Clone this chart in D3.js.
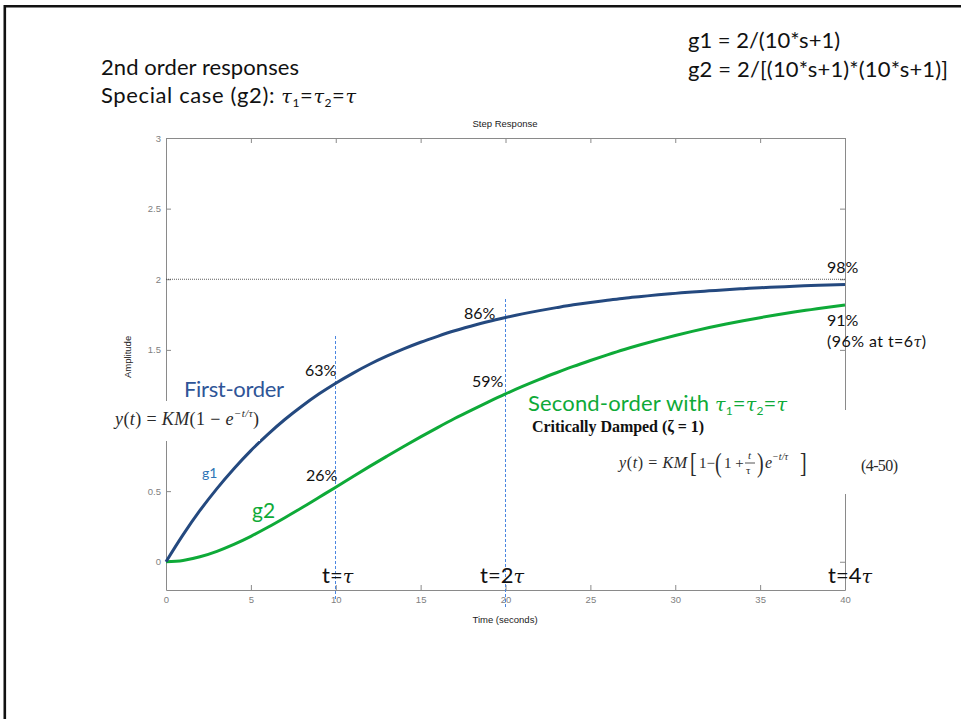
<!DOCTYPE html>
<html>
<head>
<meta charset="utf-8">
<script src="https://cdn.jsdelivr.net/npm/d3@7"></script>
<style>
  html, body { margin: 0; padding: 0; background: #fff; }
  svg { display: block; }
</style>
</head>
<body>
<svg id="chart" width="961" height="719"></svg>
<script>
// ---- data ----
const timeSec = [0,1,2,3,4,5,6,7,8,9,10,11,12,13,14,15,16,17,18,19,20,
                 21,22,23,24,25,26,27,28,29,30,31,32,33,34,35,36,37,38,39,40];
// first-order response g1
const g1Amp = [0,0.190,0.363,0.518,0.659,0.787,0.902,1.007,1.101,1.187,1.264,
               1.334,1.398,1.455,1.507,1.554,1.596,1.635,1.669,1.701,1.729,
               1.755,1.778,1.799,1.819,1.836,1.851,1.866,1.878,1.890,1.900,
               1.910,1.918,1.926,1.933,1.940,1.945,1.951,1.955,1.960,1.963];
// critically damped second-order response g2
const g2Amp = [0,0.009,0.035,0.074,0.123,0.180,0.244,0.312,0.382,0.455,0.528,
               0.602,0.675,0.746,0.816,0.884,0.950,1.014,1.074,1.132,1.188,
               1.241,1.291,1.338,1.383,1.425,1.465,1.503,1.538,1.571,1.602,
               1.631,1.658,1.683,1.706,1.728,1.749,1.768,1.785,1.802,1.817];
const xTicks = [0,5,10,15,20,25,30,35,40];
const yTicks = [0,0.5,1,1.5,2,2.5,3];
// the "1" label sits under the first-order equation panel
const yTickLabels = ["0","0.5","","1.5","2","2.5","3"];
const steadyState = 2;
// reference time markers: t = tau, t = 2 tau
const markerTimes = [10, 20];
const markerTop = [1.6, 1.86];
const markerBottom = [-0.27, -0.32];

// ---- layout ----
const svg = d3.select("#chart");
const x = d3.scaleLinear().domain([0, 40]).range([166, 845]);
const y = d3.scaleLinear().domain([-0.2, 3]).range([590, 138]);

const sans = "Lato, 'Open Sans', sans-serif";
const serif = "'Liberation Serif', 'DejaVu Serif', serif";
const greek = "'DejaVu Serif', serif";
const axisFont = "'Liberation Sans', Arial, sans-serif";

// slide frame (top and left edges)
svg.append("path")
  .attr("d", "M4.8,719 V6.2 H961")
  .attr("fill", "none").attr("stroke", "#111").attr("stroke-width", 2.6);

// ---- axes ----
const axisColor = "#8a8a8a";
function styleAxis(g) {
  g.select(".domain").attr("stroke", axisColor).attr("stroke-width", 1);
  g.selectAll(".tick line").attr("stroke", axisColor);
  g.selectAll(".tick text").attr("fill", "#808080")
    .attr("font-family", axisFont).attr("font-size", 9.5);
}
svg.append("g").attr("transform", `translate(0,${y(-0.2)})`)
  .call(d3.axisBottom(x).tickValues(xTicks).tickSize(-5).tickSizeOuter(0).tickPadding(6))
  .call(styleAxis);
svg.append("g").attr("transform", `translate(0,${y(3)})`)
  .call(d3.axisTop(x).tickValues(xTicks).tickSize(-5).tickSizeOuter(0).tickFormat(""))
  .call(styleAxis);
svg.append("g").attr("transform", `translate(${x(0)},0)`)
  .call(d3.axisLeft(y).tickValues(yTicks).tickSize(-5).tickSizeOuter(0).tickPadding(5)
        .tickFormat((d, i) => yTickLabels[i]))
  .call(styleAxis);
svg.append("g").attr("transform", `translate(${x(40)},0)`)
  .call(d3.axisRight(y).tickValues(yTicks).tickSize(-5).tickSizeOuter(0).tickFormat(""))
  .call(styleAxis);

// axis titles and plot title
svg.append("text").attr("x", 505).attr("y", 127).attr("text-anchor", "middle")
  .attr("font-family", axisFont).attr("font-size", 9.5).attr("fill", "#222")
  .text("Step Response");
svg.append("text").attr("x", 505).attr("y", 623).attr("text-anchor", "middle")
  .attr("font-family", axisFont).attr("font-size", 9.5).attr("fill", "#222")
  .text("Time (seconds)");
svg.append("text").attr("transform", `translate(131,${y(1.45)}) rotate(-90)`)
  .attr("text-anchor", "middle")
  .attr("font-family", axisFont).attr("font-size", 9.5).attr("fill", "#222")
  .text("Amplitude");

// steady-state reference line
svg.append("line")
  .attr("x1", x(0)).attr("x2", x(40)).attr("y1", y(steadyState)).attr("y2", y(steadyState))
  .attr("stroke", "#333").attr("stroke-width", 0.8).attr("stroke-dasharray", "1,1");

// time markers
markerTimes.forEach((t, i) => {
  svg.append("line")
    .attr("x1", x(t)).attr("x2", x(t)).attr("y1", y(markerTop[i])).attr("y2", y(markerBottom[i]))
    .attr("stroke", "#4a86e0").attr("stroke-width", 1).attr("stroke-dasharray", "3,2")
    .attr("shape-rendering", "crispEdges");
});

// response curves
const line = d3.line().x((d, i) => x(timeSec[i])).y(d => y(d)).curve(d3.curveMonotoneX);
svg.append("path").datum(g2Amp).attr("d", line)
  .attr("fill", "none").attr("stroke", "#0eaa38").attr("stroke-width", 3);
svg.append("path").datum(g1Amp).attr("d", line)
  .attr("fill", "none").attr("stroke", "#24497f").attr("stroke-width", 3);

// white panels behind the equations
svg.append("rect").attr("x", 100).attr("y", 401).attr("width", 160).attr("height", 40).attr("fill", "#fff");
svg.append("rect").attr("x", 516).attr("y", 410).attr("width", 410).attr("height", 84).attr("fill", "#fff");

// ---- text helpers ----
function rich(x0, y0, parts, base, width) {
  const t = svg.append("text").attr("x", x0).attr("y", y0);
  Object.entries(base).forEach(([k, v]) => t.attr(k, v));
  parts.forEach(p => {
    const s = t.append("tspan").text(p.t);
    if (p.dy) s.attr("dy", p.dy);
    if (p.size) s.attr("font-size", p.size);
    if (p.italic) s.attr("font-style", "italic");
    if (p.fam) s.attr("font-family", p.fam);
    if (p.dx) s.attr("dx", p.dx);
  });
  if (width) t.attr("textLength", width).attr("lengthAdjust", "spacing");
  return t;
}
function plain(x0, y0, str, base, width) {
  const t = svg.append("text").attr("x", x0).attr("y", y0).text(str);
  Object.entries(base).forEach(([k, v]) => t.attr(k, v));
  if (width) t.attr("textLength", width).attr("lengthAdjust", "spacing");
  return t;
}
// tall delimiter glyph, stretched vertically
function delim(x0, y0, ch, fill) {
  return svg.append("text").attr("transform", `translate(${x0},${y0}) scale(1,1.35)`)
    .attr("font-family", serif).attr("font-size", 20).attr("fill", fill).text(ch);
}
const tau = (extra) => Object.assign({ t: "τ", italic: true, fam: greek }, extra || {});

const head = { "font-family": sans, "font-size": 22, fill: "#111" };
plain(101, 75, "2nd order responses", head, 198);
rich(101, 103, [
  { t: "Special case (g2): " },
  tau({ size: 19 }), { t: "1", size: 12, dy: 4 }, { t: "=", dy: -4 },
  tau({ size: 19 }), { t: "2", size: 12, dy: 4 }, { t: "=", dy: -4 }, tau({ size: 19 })
], head, 255);
plain(688, 48, "g1 = 2/(10*s+1)", head, 152);
plain(688, 77, "g2 = 2/[(10*s+1)*(10*s+1)]", head, 260);

// percentage annotations
const pct = { "font-family": sans, "font-size": 16, fill: "#111" };
plain(827, 273, "98%", pct);
plain(827, 326, "91%", pct);
rich(827, 347, [{ t: "(96% at t=6" }, tau({ size: 14 }), { t: ")" }], pct, 99);
plain(464, 319, "86%", pct);
plain(305, 376, "63%", pct);
plain(472, 387, "59%", pct);
plain(306, 481, "26%", pct);

// time labels
const tl = { "font-family": sans, "font-size": 22, fill: "#111" };
rich(322, 583, [{ t: "t=" }, tau({ size: 19 })], tl);
rich(480, 583, [{ t: "t=2" }, tau({ size: 19 })], tl);
rich(828, 583, [{ t: "t=4" }, tau({ size: 19 })], tl);

// curve labels
plain(184, 397, "First-order", { "font-family": sans, "font-size": 22, fill: "#2f5597" }, 100);
plain(202, 478, "g1", { "font-family": sans, "font-size": 14, fill: "#2e75b6" });
plain(252, 518, "g2", { "font-family": sans, "font-size": 21, fill: "#0eaa38" });
rich(528, 411, [
  { t: "Second-order with " },
  tau({ size: 19 }), { t: "1", size: 12, dy: 4 }, { t: "=", dy: -4 },
  tau({ size: 19 }), { t: "2", size: 12, dy: 4 }, { t: "=", dy: -4 }, tau({ size: 19 })
], { "font-family": sans, "font-size": 22, fill: "#0eaa38" }, 259);

// first-order equation
const eq = { "font-family": serif, "font-size": 18, fill: "#2a2a2a" };
rich(115, 425, [
  { t: "y", italic: true }, { t: "(" }, { t: "t", italic: true }, { t: ") = " },
  { t: "KM", italic: true }, { t: "(1 − " }, { t: "e", italic: true },
  { t: "−t/τ", size: 11, dy: -8, italic: true }, { t: ")", dy: 8 }
], eq, 144);

// critically damped equation
plain(532, 432, "Critically Damped (ζ = 1)",
  { "font-family": serif, "font-size": 16, "font-weight": "bold", fill: "#111" }, 172);
const eqFill = "#2a2a2a";
const eq2 = { "font-family": serif, "font-size": 16, fill: eqFill };
rich(619, 468, [
  { t: "y", italic: true }, { t: "(" }, { t: "t", italic: true }, { t: ") = " },
  { t: "KM", italic: true }
], eq2, 68);
delim(690, 472, "[", eqFill);
plain(699, 468, "1−", Object.assign({}, eq2, { "font-size": 15 }));
delim(715, 472, "(", eqFill);
plain(724, 468, "1 +", Object.assign({}, eq2, { "font-size": 15 }));
plain(748, 459, "t", Object.assign({}, eq2, { "font-size": 11, "font-style": "italic" }));
svg.append("line").attr("x1", 745).attr("x2", 755).attr("y1", 463).attr("y2", 463)
  .attr("stroke", eqFill).attr("stroke-width", 0.8);
plain(746, 474, "τ", Object.assign({}, eq2, { "font-size": 11 }));
delim(757, 472, ")", eqFill);
rich(765, 468, [
  { t: "e", italic: true }, { t: "−t/τ", size: 10, dy: -8, italic: true }
], eq2);
delim(800, 472, "]", eqFill);
plain(861, 471, "(4-50)", eq2, 37);
</script>
</body>
</html>
